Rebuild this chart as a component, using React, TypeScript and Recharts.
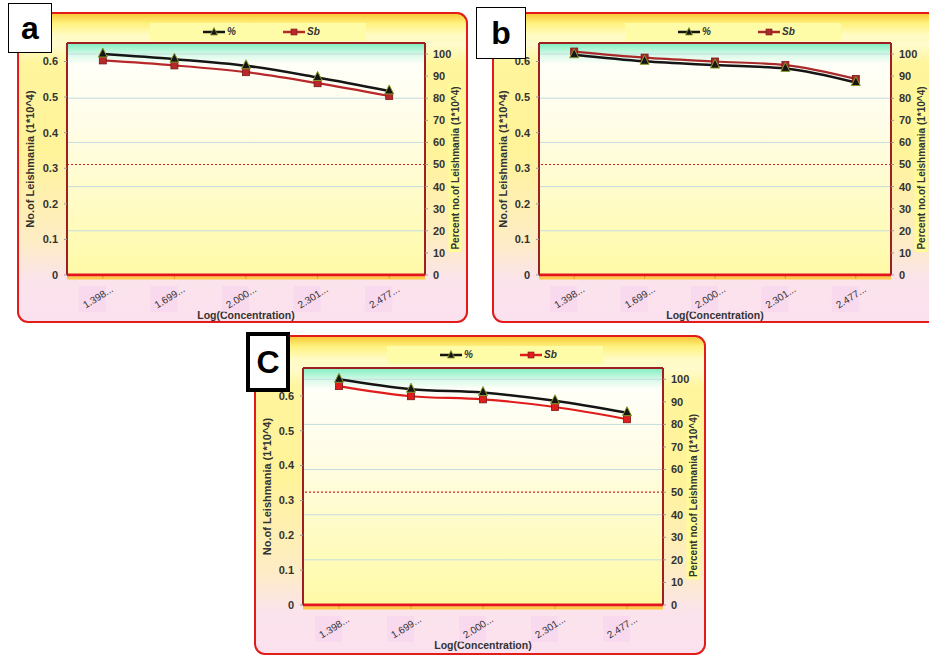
import React from "react";
import {
  LineChart,
  Line,
  XAxis,
  YAxis,
  CartesianGrid,
  ReferenceLine,
} from "recharts";

// x categories: log10 of the concentrations, truncated as in the figure
const CATEGORIES = ["1.398...", "1.699...", "2.000...", "2.301...", "2.477..."];

// "%" series (right axis, percent) and "Sb" series (left axis, count)
const PCT_A = [100, 97.7, 94.7, 89.4, 83.3];
const SB_A = [0.603, 0.589, 0.57, 0.539, 0.503];
const PCT_B = [99.7, 96.7, 95.0, 93.5, 87.1];
const SB_B = [0.628, 0.611, 0.6, 0.59, 0.551];
const PCT_C = [100, 95.6, 94.1, 90.5, 85.2];
const SB_C = [0.628, 0.599, 0.59, 0.568, 0.533];

const LEFT_TICKS = [0, 0.1, 0.2, 0.3, 0.4, 0.5, 0.6];
const RIGHT_TICKS = [0, 10, 20, 30, 40, 50, 60, 70, 80, 90, 100];
const RIGHT_MAX = 105;
const HALF = 50;

const SERIES_NAMES = ["%", "Sb"];

const FONT = "'Liberation Sans', Arial, sans-serif";

const Triangle = (props: any) => {
  const { cx, cy, index } = props;
  if (cx == null || cy == null) return null;
  return (
    <path
      key={`t-${index}`}
      d={`M${cx},${cy - 6} L${cx + 4.5},${cy + 3} L${cx - 4.5},${cy + 3} Z`}
      fill="#151515"
      stroke="#8d9a2a"
      strokeWidth={1}
    />
  );
};

const Square = (color: string) => (props: any) => {
  const { cx, cy, index } = props;
  if (cx == null || cy == null) return null;
  return (
    <rect
      key={`s-${index}`}
      x={cx - 3.5}
      y={cy - 3.5}
      width={7}
      height={7}
      fill={color}
      stroke="#7a1515"
      strokeWidth={0.8}
    />
  );
};

// slanted category label, laid along a -32° path under the tick
const makeXTick = (panelId: string) => (props: any) => {
  const { x, y, payload, index } = props;
  const pathId = `xt-${panelId}-${index}`;
  const bx = x - 3;
  const by = y + 19;
  const ux = 25.4;
  const uy = 15.9;
  return (
    <g key={pathId}>
      <rect x={x - 24} y={y + 5} width={27} height={26} fill="#f7d6ee" opacity={0.75} />
      <path id={pathId} d={`M${bx - ux},${by + uy} L${bx + ux},${by - uy}`} fill="none" stroke="none" />
      <text fontSize={10} fill="#333" fontFamily={FONT}>
        <textPath href={`#${pathId}`} startOffset="50%" textAnchor="middle">
          {payload.value}
        </textPath>
      </text>
    </g>
  );
};

const VLabel = ({ viewBox, text, dx, dy, size, bg }: any) => {
  if (!viewBox) return null;
  const cx = viewBox.x + dx;
  const cy = viewBox.y + viewBox.height / 2 + dy;
  return (
    <g>
      {bg && <rect x={cx - 6.5} y={cy - 84} width={13} height={168} fill="#fffb98" />}
      <text
        x={cx}
        y={cy}
        transform={`rotate(-90, ${cx}, ${cy})`}
        textAnchor="middle"
        dominantBaseline="central"
        fontSize={size}
        fontWeight="bold"
        fill="#333"
        fontFamily={FONT}
      >
        {text}
      </text>
    </g>
  );
};

const XLabel = ({ viewBox }: any) => {
  if (!viewBox) return null;
  return (
    <g>
      <rect x={viewBox.x} y={viewBox.y + 1.5} width={viewBox.width} height={3} fill="#ffc21a" opacity={0.8} />
      <text
        x={viewBox.x + viewBox.width / 2}
        y={viewBox.y + 40}
        textAnchor="middle"
        dominantBaseline="central"
        fontSize={10.5}
        fontWeight="bold"
        fill="#333"
        fontFamily={FONT}
      >
        Log(Concentration)
      </text>
    </g>
  );
};

function LegendBox({ sbColor }: { sbColor: string }) {
  const item = (name: string, marker: React.ReactNode, left: number, color: string) => (
    <div style={{ position: "absolute", left, top: 3, display: "flex", alignItems: "center" }}>
      <svg width={22} height={12}>
        <line x1={0} y1={6} x2={22} y2={6} stroke={color} strokeWidth={2.5} />
        {marker}
      </svg>
      <span
        style={{
          marginLeft: 2,
          fontSize: 10,
          fontStyle: "italic",
          fontWeight: "bold",
          color: "#333",
          fontFamily: FONT,
          lineHeight: "12px",
        }}
      >
        {name}
      </span>
    </div>
  );
  return (
    <div
      style={{
        position: "absolute",
        left: 133,
        top: 11,
        width: 216,
        height: 18,
        background: "#fffca8",
      }}
    >
      {item(
        SERIES_NAMES[0],
        <path d="M11,1.5 L14.5,9 L7.5,9 Z" fill="#151515" stroke="#8d9a2a" strokeWidth={0.8} />,
        53,
        "#151515"
      )}
      {item(
        SERIES_NAMES[1],
        <rect x={8} y={3} width={6} height={6} fill={sbColor} stroke="#7a1515" strokeWidth={0.6} />,
        133,
        sbColor
      )}
    </div>
  );
}

interface PanelProps {
  id: string;
  tag: string;
  tagBox: { left: number; top: number; width: number; height: number; border: number };
  left: number;
  top: number;
  width: number;
  height: number;
  plot: { left: number; right: number; top: number; bottom: number };
  leftMax: number;
  pct: number[];
  sb: number[];
  sbColor: string;
  leftLabelDx: number;
}

function Panel(p: PanelProps) {
  const data = CATEGORIES.map((c, i) => ({ name: c, pct: p.pct[i], sb: p.sb[i] }));
  const plotW = p.width - p.plot.left - p.plot.right;
  const pad = plotW / 10;
  const frame = { stroke: "#9e1f22", strokeWidth: 2 };
  return (
    <>
      <div
        style={{
          position: "absolute",
          left: p.left,
          top: p.top,
          width: p.width,
          height: p.height,
          boxSizing: "border-box",
          border: "2px solid #e21b1b",
          borderRadius: 11,
          background:
            "linear-gradient(180deg, #f9c93a 0%, #fff27e 3%, #fffbc4 7%, #fffbcc 10%, #fff59c 16%, #fff39a 45%, #fdecc4 74%, #fbe3ec 87%, #fbe1ee 100%)",
          overflow: "hidden",
        }}
      >
        <div style={{ position: "absolute", left: -2, top: -2 }}>
          <LegendBox sbColor={p.sbColor} />
          <LineChart
            width={p.width}
            height={p.height}
            data={data}
            margin={{ top: p.plot.top, right: 0, bottom: 0, left: 0 }}
          >
            <defs>
              <linearGradient id={`bg-${p.id}`} x1="0" y1="0" x2="0" y2="1">
                <stop offset="0%" stopColor="#7eeec0" />
                <stop offset="5%" stopColor="#d8fae8" />
                <stop offset="9%" stopColor="#fffff8" />
                <stop offset="35%" stopColor="#fffde8" />
                <stop offset="100%" stopColor="#fffaa6" />
              </linearGradient>
            </defs>
            <CartesianGrid
              yAxisId="right"
              vertical={false}
              stroke="#c4dcdf"
              fill={`url(#bg-${p.id})`}
              fillOpacity={1}
            />
            <XAxis
              dataKey="name"
              height={p.plot.bottom}
              padding={{ left: pad, right: pad }}
              axisLine={{ stroke: "#e3141c", strokeWidth: 3 }}
              tickLine={{ stroke: "#e3141c" }}
              tickSize={4}
              tick={makeXTick(p.id)}
              interval={0}
              label={<XLabel />}
            />
            <YAxis
              yAxisId="left"
              orientation="left"
              width={p.plot.left}
              domain={[0, p.leftMax]}
              ticks={LEFT_TICKS}
              allowDataOverflow
              axisLine={frame}
              tickLine={{ stroke: "#999" }}
              tickSize={3}
              tickMargin={6}
              tick={{ fontSize: 11, fontWeight: "bold", fill: "#333", fontFamily: FONT }}
              label={
                <VLabel text="No.of Leishmania (1*10^4)" dx={p.leftLabelDx} dy={0} size={11} />
              }
            />
            <YAxis
              yAxisId="right"
              orientation="right"
              width={p.plot.right}
              domain={[0, RIGHT_MAX]}
              ticks={RIGHT_TICKS}
              allowDataOverflow
              axisLine={frame}
              tickLine={{ stroke: "#999" }}
              tickSize={3}
              tickMargin={5}
              tick={{ fontSize: 11, fontWeight: "bold", fill: "#333", fontFamily: FONT }}
              label={
                <VLabel text="Percent no.of Leishmania (1*10^4)" dx={30} dy={9} size={10} bg />
              }
            />
            <ReferenceLine yAxisId="right" y={RIGHT_MAX} stroke="#9e1f22" strokeWidth={2} />
            <ReferenceLine
              yAxisId="right"
              y={HALF}
              stroke="#d42020"
              strokeWidth={1.2}
              strokeDasharray="2 2"
            />
            <Line
              yAxisId="left"
              dataKey="sb"
              name={SERIES_NAMES[1]}
              type="monotone"
              stroke={p.sbColor}
              strokeWidth={2.2}
              dot={Square(p.sbColor)}
              isAnimationActive={false}
            />
            <Line
              yAxisId="right"
              dataKey="pct"
              name={SERIES_NAMES[0]}
              type="monotone"
              stroke="#151515"
              strokeWidth={2.5}
              dot={Triangle}
              isAnimationActive={false}
            />
          </LineChart>
        </div>
      </div>
      <div
        style={{
          position: "absolute",
          left: p.tagBox.left,
          top: p.tagBox.top,
          width: p.tagBox.width,
          height: p.tagBox.height,
          boxSizing: "border-box",
          border: `${p.tagBox.border}px solid #000`,
          background: "#fff",
          display: "flex",
          alignItems: "center",
          justifyContent: "center",
          fontFamily: "'Liberation Sans', Arial, sans-serif",
          fontWeight: "bold",
          fontSize: 32,
          color: "#000",
        }}
      >
        {p.tag}
      </div>
    </>
  );
}

export default function App() {
  return (
    <div
      style={{
        position: "fixed",
        left: 0,
        top: 0,
        width: 929,
        height: 657,
        overflow: "hidden",
        background: "#fff",
      }}
    >
      <Panel
        id="a"
        tag="a"
        tagBox={{ left: 8, top: 3, width: 44, height: 50, border: 1.5 }}
        left={17}
        top={12}
        width={451}
        height={311}
        plot={{ left: 50, right: 43, top: 31, bottom: 48 }}
        leftMax={0.652}
        pct={PCT_A}
        sb={SB_A}
        sbColor="#b8282a"
        leftLabelDx={13}
      />
      <Panel
        id="b"
        tag="b"
        tagBox={{ left: 476, top: 7, width: 50, height: 52, border: 1 }}
        left={492}
        top={12}
        width={460}
        height={311}
        plot={{ left: 47, right: 61, top: 31, bottom: 48 }}
        leftMax={0.652}
        pct={PCT_B}
        sb={SB_B}
        sbColor="#a82a2a"
        leftLabelDx={11}
      />
      <Panel
        id="c"
        tag="C"
        tagBox={{ left: 246, top: 332, width: 44, height: 60, border: 4 }}
        left={254}
        top={335}
        width={452}
        height={320}
        plot={{ left: 49, right: 43, top: 33, bottom: 50 }}
        leftMax={0.68}
        pct={PCT_C}
        sb={SB_C}
        sbColor="#e01d1d"
        leftLabelDx={13}
      />
    </div>
  );
}
